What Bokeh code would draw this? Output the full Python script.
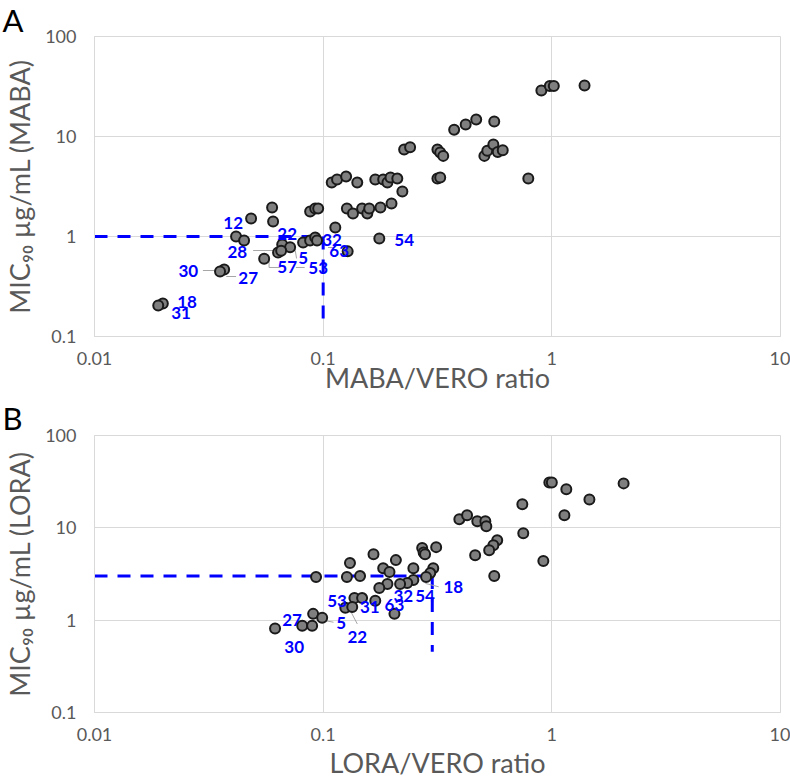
from bokeh.plotting import figure
from bokeh.models import ColumnDataSource, FixedTicker, Title
from bokeh.layouts import column
from bokeh.core.properties import value
from bokeh.embed import file_html
from bokeh.resources import INLINE

# ---------------- data ----------------
maba_ratio = [0.90, 0.98, 1.02, 1.39, 0.374, 0.42, 0.467, 0.56, 0.226, 0.24,
              0.316, 0.325, 0.335, 0.507, 0.522, 0.555, 0.58, 0.61, 0.109, 0.115,
              0.126, 0.141, 0.169, 0.183, 0.191, 0.197, 0.211, 0.316, 0.325, 0.789,
              0.222, 0.199, 0.0877, 0.0923, 0.0951, 0.127, 0.135, 0.148, 0.156, 0.159,
              0.178, 0.113, 0.176, 0.0484, 0.0598, 0.0604, 0.0416, 0.0451, 0.0662, 0.0717,
              0.0635, 0.0655, 0.0552, 0.0817, 0.0877, 0.0923, 0.094, 0.128, 0.0369, 0.0354,
              0.0199, 0.0190]
maba_mic = [28.8, 32.0, 32.0, 32.4, 11.7, 13.2, 14.8, 14.1, 7.4, 7.8,
            7.4, 6.9, 6.4, 6.4, 7.2, 8.3, 7.0, 7.3, 3.47, 3.72,
            3.98, 3.47, 3.72, 3.72, 3.47, 3.89, 3.8, 3.8, 3.89, 3.8,
            2.82, 2.14, 1.78, 1.91, 1.91, 1.91, 1.70, 1.91, 1.70, 1.91,
            1.95, 1.23, 0.955, 1.51, 1.95, 1.41, 1.0, 0.91, 0.83, 0.78,
            0.69, 0.72, 0.60, 0.87, 0.91, 0.98, 0.91, 0.71, 0.468, 0.447,
            0.214, 0.204]

lora_ratio = [0.975, 1.0, 1.157, 1.46, 2.06, 1.135, 0.743, 0.394, 0.426, 0.472,
              0.512, 0.517, 0.75, 0.577, 0.555, 0.532, 0.462, 0.918, 0.56, 0.271,
              0.275, 0.279, 0.312, 0.208, 0.248, 0.303, 0.294, 0.282, 0.248, 0.233,
              0.217, 0.191, 0.176, 0.183, 0.195, 0.166, 0.131, 0.127, 0.0931, 0.145,
              0.137, 0.148, 0.169, 0.125, 0.134, 0.205, 0.0904, 0.099, 0.081, 0.0895,
              0.0616]
lora_mic = [31.0, 31.0, 26.1, 20.3, 30.3, 13.7, 18.0, 12.4, 13.7, 11.8,
            11.8, 10.4, 8.75, 7.35, 6.49, 5.73, 5.06, 4.37, 3.0, 6.03,
            5.4, 5.19, 6.18, 4.47, 3.66, 3.66, 3.24, 2.93, 2.72, 2.52,
            2.46, 2.46, 2.23, 3.66, 3.32, 5.19, 4.15, 2.93, 2.93, 3.0,
            1.74, 1.74, 1.62, 1.36, 1.39, 1.17, 1.17, 1.06, 0.87, 0.87,
            0.81]

# compound labels (text and where they sit, in data units)
labels_a = ["12", "22", "32", "63", "54", "28", "5", "57", "53", "30", "27", "18", "31"]
labels_a_x = [0.0404, 0.0696, 0.1094, 0.1175, 0.226, 0.0421, 0.0817, 0.0696, 0.0951,
              0.0257, 0.047, 0.0254, 0.0239]
labels_a_y = [1.38, 1.07, 0.933, 0.724, 0.933, 0.692, 0.603, 0.49, 0.479,
              0.447, 0.389, 0.219, 0.170]

labels_b = ["53", "31", "63", "32", "54", "18", "5", "22", "27", "30"]
labels_b_x = [0.115, 0.160, 0.205, 0.224, 0.279, 0.371, 0.120, 0.141, 0.0731, 0.0747]
labels_b_y = [1.61, 1.39, 1.46, 1.83, 1.83, 2.29, 0.936, 0.661, 1.0, 0.515]

# leader lines (from, to)
leaders_a_x0 = [0.0298, 0.0377, 0.0494, 0.0580, 0.0580, 0.0760, 0.0755, 0.1050]
leaders_a_x1 = [0.0347, 0.0416, 0.0648, 0.0580, 0.0650, 0.0830, 0.0765, 0.1120]
leaders_a_y0 = [0.457, 0.398, 0.724, 0.603, 0.490, 0.490, 0.724, 0.776]
leaders_a_y1 = [0.457, 0.398, 0.724, 0.490, 0.490, 0.490, 0.603, 0.776]

leaders_b_x0 = [0.28, 0.099, 0.131]
leaders_b_x1 = [0.32, 0.111, 0.141]
leaders_b_y0 = [2.50, 1.00, 1.29]
leaders_b_y1 = [2.30, 0.95, 0.91]

# threshold guides
maba_mic_cut, maba_ratio_cut, maba_guide_bottom = 1.0, 0.1, 0.145
lora_mic_cut, lora_ratio_cut, lora_guide_bottom = 3.0, 0.3, 0.455

x_ticks = [0.01, 0.1, 1, 10]
x_tick_labels = ["0.01", "0.1", "1", "10"]
y_ticks = [0.1, 1, 10, 100]
y_tick_labels = ["0.1", "1", "10", "100"]

FONT = "Lato"
GRID = "#d9d9d9"
TICKC = "#595959"


def make_panel(letter, rx, my, lab, lab_x, lab_y, lx0, lx1, ly0, ly1,
               mic_cut, ratio_cut, guide_bottom, xtitle, ytitle,
               height, top, bottom, letter_standoff, letter_valign, title_standoff):
    p = figure(width=790, height=height, x_axis_type="log", y_axis_type="log",
               x_range=(0.01, 10), y_range=(0.1, 100),
               output_backend="svg", toolbar_location=None,
               min_border_left=94, min_border_right=10,
               min_border_top=top, min_border_bottom=bottom)
    p.background_fill_color = "white"
    p.border_fill_color = "white"
    p.outline_line_color = GRID

    for ax, ticks, tl in ((p.xaxis[0], x_ticks, x_tick_labels), (p.yaxis[0], y_ticks, y_tick_labels)):
        ax.ticker = FixedTicker(ticks=ticks, minor_ticks=[])
        ax.major_label_overrides = {t: s for t, s in zip(ticks, tl)}
        ax.axis_line_color = GRID
        ax.major_tick_line_color = None
        ax.minor_tick_line_color = None
        ax.major_tick_out = 0
        ax.major_tick_in = 0
        ax.minor_tick_out = 0
        ax.major_label_text_font = FONT
        ax.major_label_text_font_size = "18px"
        ax.major_label_text_color = TICKC
        ax.axis_label_text_font = FONT
        ax.axis_label_text_font_style = "normal"
        ax.axis_label_text_color = TICKC
        ax.axis_label_text_font_size = "27px"

    p.xaxis.axis_label = xtitle
    p.xaxis.major_label_standoff = 15
    p.xaxis.axis_label_standoff = title_standoff
    p.yaxis.axis_label = ytitle
    p.yaxis.major_label_standoff = 18
    p.yaxis.axis_label_standoff = 6

    p.xgrid.ticker = FixedTicker(ticks=x_ticks)
    p.ygrid.ticker = FixedTicker(ticks=y_ticks)
    p.grid.grid_line_color = GRID
    p.grid.grid_line_width = 1

    # threshold guides
    p.line([0.01, ratio_cut], [mic_cut, mic_cut], line_color="#0000ff",
           line_width=3, line_dash="13 10")
    p.line([ratio_cut, ratio_cut], [mic_cut, guide_bottom], line_color="#0000ff",
           line_width=3, line_dash="13 10")

    # leader lines
    p.segment(x0=lx0, y0=ly0, x1=lx1, y1=ly1, line_color="#a6a6a6", line_width=1)

    src = ColumnDataSource(dict(x=rx, y=my))
    p.scatter("x", "y", source=src, size=10, fill_color="#7f7f7f",
              line_color="#1a1a1a", line_width=2)

    lsrc = ColumnDataSource(dict(x=lab_x, y=lab_y, t=lab))
    p.text("x", "y", text="t", source=lsrc, text_color="#0000ff",
           text_font=value(FONT), text_font_style="bold",
           text_font_size="17px", text_align="center", text_baseline="middle")

    p.add_layout(Title(text=letter, align="left", offset=-92, standoff=letter_standoff,
                       vertical_align=letter_valign,
                       text_font=FONT, text_font_style="normal",
                       text_font_size="31px", text_color="black"), "above")
    return p


pA = make_panel("A", maba_ratio, maba_mic, labels_a, labels_a_x, labels_a_y,
                leaders_a_x0, leaders_a_x1, leaders_a_y0, leaders_a_y1,
                maba_mic_cut, maba_ratio_cut, maba_guide_bottom,
                "MABA/VERO ratio", "MIC\u2089\u2080 \u00b5g/mL (MABA)",
                398, 35, 62, -4, "bottom", -7)
pB = make_panel("B", lora_ratio, lora_mic, labels_b, labels_b_x, labels_b_y,
                leaders_b_x0, leaders_b_x1, leaders_b_y0, leaders_b_y1,
                lora_mic_cut, lora_ratio_cut, lora_guide_bottom,
                "LORA/VERO ratio", "MIC\u2089\u2080 \u00b5g/mL (LORA)",
                383, 37, 68, -6, "top", 2)

layout = column(pA, pB, spacing=0)
open("out.html", "w").write(file_html(layout, INLINE))
